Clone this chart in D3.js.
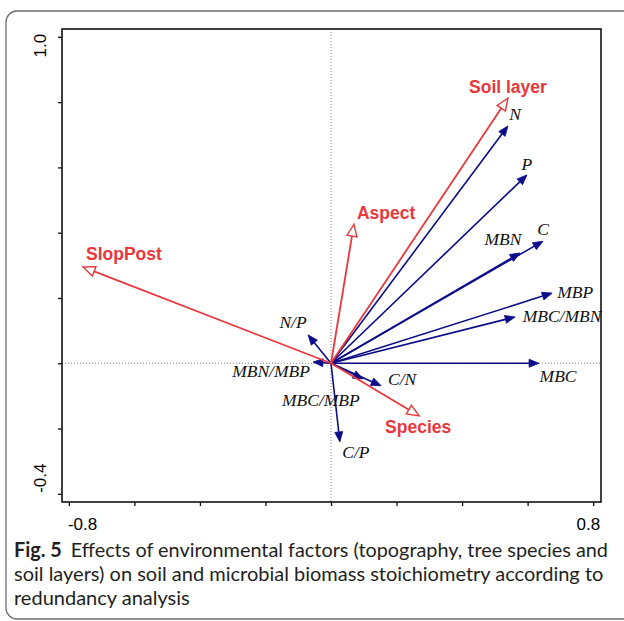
<!DOCTYPE html>
<html>
<head>
<meta charset="utf-8">
<script src="https://cdn.jsdelivr.net/npm/d3@7"></script>
<style>
  body { margin: 0; background: #fff; }
</style>
</head>
<body>
<svg id="svg"></svg>
<script>
// environmental factors (red, open heads)
const envNames = ['Soil layer', 'Aspect', 'SlopPost', 'Species'];
const envX = [0.540, 0.070, -0.757, 0.269];
const envY = [0.812, 0.426, 0.295, -0.161];
const envLabelX = [0.540, 0.168, -0.632, 0.266];
const envLabelY = [0.846, 0.460, 0.335, -0.195];

// soil / microbial stoichiometry (blue, filled heads)
const respNames = ['N', 'P', 'C', 'MBN', 'MBP', 'MBC/MBN', 'MBC', 'C/N', 'MBC/MBP', 'C/P', 'N/P', 'MBN/MBP'];
const respX = [0.540, 0.598, 0.647, 0.577, 0.675, 0.562, 0.635, 0.153, 0.098, 0.027, -0.070, -0.055];
const respY = [0.727, 0.577, 0.374, 0.338, 0.215, 0.142, 0.000, -0.069, -0.048, -0.241, 0.087, 0.004];
const respLabelX = [0.562, 0.598, 0.647, 0.525, 0.745, 0.705, 0.693, 0.217, -0.031, 0.076, -0.116, -0.183];
const respLabelY = [0.763, 0.610, 0.412, 0.381, 0.218, 0.145, -0.039, -0.048, -0.112, -0.272, 0.126, -0.024];

const yTicks = [-0.4, -0.2, 0, 0.2, 0.4, 0.6, 0.8, 1.0];
const xTicks = [-0.8, -0.6, -0.4, -0.2, 0, 0.2, 0.4, 0.6, 0.8];

const captionLines = [
  'Effects of environmental factors (topography, tree species and',
  'soil layers) on soil and microbial biomass stoichiometry according to',
  'redundancy analysis'
];

const width = 624, height = 621;
const RED = '#e8383d', BLUE = '#0c0c8a';

const svg = d3.select('#svg')
  .attr('width', width)
  .attr('height', height);

// outer rounded panel
svg.append('rect')
  .attr('x', 6).attr('y', 11)
  .attr('width', 640).attr('height', 608)
  .attr('rx', 11)
  .attr('fill', 'none')
  .attr('stroke', '#6e6e6e')
  .attr('stroke-width', 1.3);

const x = d3.scaleLinear().domain([-0.821, 0.824]).range([62, 601]);
const y = d3.scaleLinear().domain([1.024, -0.425]).range([29, 502]);

// dotted zero lines
svg.append('line')
  .attr('x1', x.range()[0]).attr('x2', x.range()[1])
  .attr('y1', y(0)).attr('y2', y(0))
  .attr('stroke', '#777').attr('stroke-width', 0.9).attr('stroke-dasharray', '1,2');
svg.append('line')
  .attr('x1', x(0)).attr('x2', x(0))
  .attr('y1', y.range()[0]).attr('y2', y.range()[1])
  .attr('stroke', '#777').attr('stroke-width', 0.9).attr('stroke-dasharray', '1,2');

// axes (ticks only, labels placed by hand like the original)
svg.append('g')
  .attr('transform', `translate(${x.range()[0]},0)`)
  .call(d3.axisLeft(y).tickValues(yTicks).tickSize(4).tickSizeOuter(0).tickFormat(''))
  .call(g => g.select('.domain').remove())
  .selectAll('line').attr('stroke', '#111').attr('stroke-width', 1.3);

svg.append('g')
  .attr('transform', `translate(0,${y.range()[1]})`)
  .call(d3.axisBottom(x).tickValues(xTicks).tickSize(4).tickSizeOuter(0).tickFormat(''))
  .call(g => g.select('.domain').remove())
  .selectAll('line').attr('stroke', '#111').attr('stroke-width', 1.3);

// plot frame
svg.append('rect')
  .attr('x', x.range()[0]).attr('y', y.range()[0])
  .attr('width', x.range()[1] - x.range()[0])
  .attr('height', y.range()[1] - y.range()[0])
  .attr('fill', 'none')
  .attr('stroke', '#111')
  .attr('stroke-width', 1.6);

const tickFont = '"Liberation Sans", Arial, sans-serif';
svg.append('text')
  .attr('transform', `translate(46,${y(1.0) - 3}) rotate(-90)`)
  .attr('text-anchor', 'end')
  .attr('font-family', tickFont).attr('font-size', 17)
  .text('1.0');
svg.append('text')
  .attr('transform', `translate(46,${y(-0.4) - 1}) rotate(-90)`)
  .attr('text-anchor', 'start')
  .attr('font-family', tickFont).attr('font-size', 17)
  .text('-0.4');
svg.append('text')
  .attr('x', x(-0.8) - 1).attr('y', 530)
  .attr('text-anchor', 'start')
  .attr('font-family', tickFont).attr('font-size', 17)
  .text('-0.8');
svg.append('text')
  .attr('x', x(0.8) + 7).attr('y', 530)
  .attr('text-anchor', 'end')
  .attr('font-family', tickFont).attr('font-size', 17)
  .text('0.8');

function drawArrow(g, x1, y1, color, headLen, headW, open, lw) {
  const x0 = x(0), y0 = y(0);
  const tx = x(x1), ty = y(y1);
  const ang = Math.atan2(ty - y0, tx - x0);
  const bx = tx - headLen * Math.cos(ang), by = ty - headLen * Math.sin(ang);
  g.append('line')
    .attr('x1', x0).attr('y1', y0)
    .attr('x2', bx).attr('y2', by)
    .attr('stroke', color).attr('stroke-width', lw);
  const px = -Math.sin(ang) * headW, py = Math.cos(ang) * headW;
  g.append('polygon')
    .attr('points', [[tx, ty], [bx + px, by + py], [bx - px, by - py]].map(p => p.join(',')).join(' '))
    .attr('fill', open ? '#fff' : color)
    .attr('stroke', color)
    .attr('stroke-width', open ? 1.4 : 0.8)
    .attr('stroke-linejoin', 'miter');
}

const gResp = svg.append('g');
respNames.forEach((n, i) => drawArrow(gResp, respX[i], respY[i], BLUE, 10, 4, false, 1.6));

const gEnv = svg.append('g');
envNames.forEach((n, i) => drawArrow(gEnv, envX[i], envY[i], RED, 12, 5, true, 1.8));

svg.selectAll('text.resp')
  .data(respNames)
  .enter()
  .append('text')
    .attr('class', 'resp')
    .attr('x', (d, i) => x(respLabelX[i]))
    .attr('y', (d, i) => y(respLabelY[i]))
    .attr('dy', '0.35em')
    .attr('text-anchor', 'middle')
    .attr('font-family', '"Liberation Serif", "Times New Roman", serif')
    .attr('font-style', 'italic')
    .attr('font-size', 17.5)
    .attr('fill', '#111')
    .text(d => d);

svg.selectAll('text.env')
  .data(envNames)
  .enter()
  .append('text')
    .attr('class', 'env')
    .attr('x', (d, i) => x(envLabelX[i]))
    .attr('y', (d, i) => y(envLabelY[i]))
    .attr('dy', '0.35em')
    .attr('text-anchor', 'middle')
    .attr('font-family', tickFont)
    .attr('font-weight', 'bold')
    .attr('font-size', 17.5)
    .attr('fill', RED)
    .text(d => d);

// caption
const capFont = 'Lato, "Open Sans", sans-serif';
const cap = svg.append('g')
  .attr('font-family', capFont)
  .attr('font-size', 18)
  .attr('fill', '#231f20');

const l1 = cap.append('text').attr('x', 14).attr('y', 557);
l1.append('tspan').attr('font-weight', 'bold').text('Fig. 5');
l1.append('tspan').attr('dx', 9).text(captionLines[0]);

cap.append('text').attr('x', 14).attr('y', 581).text(captionLines[1]);
const l3 = cap.append('text').attr('x', 14).attr('y', 605).text(captionLines[2]);

// last (unjustified) line sets the type size; the two full lines are fitted to width
const fs = Math.min(20, 18 * (227 - 14) / l3.node().getComputedTextLength());
cap.attr('font-size', fs);
const targets = [608, 603];
cap.selectAll('text').each(function(d, i) {
  if (i > 1) return;
  const w = this.getComputedTextLength();
  const want = targets[i] - 14;
  if (Math.abs(w - want) > 2) {
    d3.select(this).attr('textLength', want).attr('lengthAdjust', 'spacingAndGlyphs');
  }
});
</script>
</body>
</html>
